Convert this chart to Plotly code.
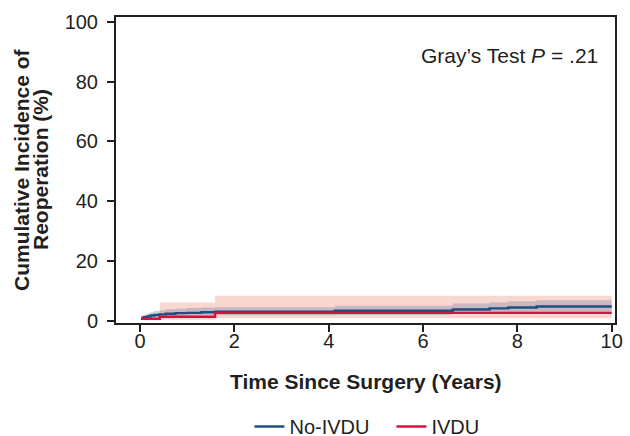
import plotly.graph_objects as go

# Data
no_ivdu_time = [0.03, 0.08, 0.15, 0.22, 0.30, 0.40, 0.55, 0.75, 1.00, 1.30, 1.60, 4.13, 6.63, 7.41, 7.81, 8.41, 10.0]
no_ivdu_cif = [0.8, 1.1, 1.4, 1.7, 1.9, 2.1, 2.3, 2.5, 2.6, 2.8, 3.0, 3.3, 3.7, 4.1, 4.4, 4.7, 4.7]
no_ivdu_upper = [1.5, 2.0, 2.5, 2.9, 3.2, 3.5, 3.8, 4.0, 4.2, 4.4, 4.5, 5.0, 5.7, 6.1, 6.5, 6.8, 6.8]
no_ivdu_lower = [0.2, 0.4, 0.6, 0.8, 1.0, 1.2, 1.4, 1.5, 1.6, 1.7, 1.8, 2.0, 2.3, 2.6, 2.8, 3.0, 3.0]

ivdu_time = [0.02, 0.42, 1.59, 10.0]
ivdu_cif = [0.6, 1.3, 2.6, 2.6]
ivdu_upper = [1.8, 6.1, 8.3, 8.3]
ivdu_lower = [0.1, 0.3, 0.8, 0.8]

x_ticks = [0, 2, 4, 6, 8, 10]
y_ticks = [0, 20, 40, 60, 80, 100]

BLUE = "#1d4f80"
RED = "#d3123f"
AXIS = "#231f20"
FONT = "Liberation Sans, Arial, sans-serif"

fig = go.Figure()

# IVDU confidence band
fig.add_trace(go.Scatter(x=ivdu_time, y=ivdu_upper, mode="lines", line=dict(width=0, shape="hv"),
                         showlegend=False, hoverinfo="skip"))
fig.add_trace(go.Scatter(x=ivdu_time, y=ivdu_lower, mode="lines", line=dict(width=0, shape="hv"),
                         fill="tonexty", fillcolor="rgba(230,110,90,0.28)", showlegend=False, hoverinfo="skip"))
# No-IVDU confidence band
fig.add_trace(go.Scatter(x=no_ivdu_time, y=no_ivdu_upper, mode="lines", line=dict(width=0, shape="hv"),
                         showlegend=False, hoverinfo="skip"))
fig.add_trace(go.Scatter(x=no_ivdu_time, y=no_ivdu_lower, mode="lines", line=dict(width=0, shape="hv"),
                         fill="tonexty", fillcolor="rgba(60,90,140,0.25)", showlegend=False, hoverinfo="skip"))

fig.add_trace(go.Scatter(x=no_ivdu_time, y=no_ivdu_cif, mode="lines", name="No-IVDU",
                         line=dict(color=BLUE, width=2.4, shape="hv")))
fig.add_trace(go.Scatter(x=ivdu_time, y=ivdu_cif, mode="lines", name="IVDU",
                         line=dict(color=RED, width=2.4, shape="hv")))

fig.add_annotation(x=9.76, y=88.6, xref="x", yref="y", xanchor="right", yanchor="middle",
                   text="Gray’s Test <i>P</i> = .21", showarrow=False,
                   font=dict(family=FONT, size=21, color=AXIS))

# Axis titles
title_font = dict(family=FONT, size=21, color=AXIS)
fig.add_annotation(x=0.5, y=-0.19, xref="paper", yref="paper", xanchor="center", yanchor="middle",
                   text="<b>Time Since Surgery (Years)</b>", showarrow=False, font=title_font)
fig.add_annotation(x=0, y=0.5, xref="paper", yref="paper", xanchor="center", yanchor="middle",
                   xshift=-95, text="<b>Cumulative Incidence of</b>", showarrow=False,
                   font=title_font, textangle=-90)
fig.add_annotation(x=0, y=0.5, xref="paper", yref="paper", xanchor="center", yanchor="middle",
                   xshift=-76, text="<b>Reoperation (%)</b>", showarrow=False,
                   font=title_font, textangle=-90)

axis_common = dict(showline=True, linecolor=AXIS, linewidth=2, mirror=True, ticks="outside",
                   tickcolor=AXIS, tickwidth=2, ticklen=7, showgrid=False, zeroline=False,
                   automargin=False, tickfont=dict(family=FONT, size=20, color=AXIS))

fig.update_xaxes(range=[-0.51, 10.07], tickvals=x_ticks, ticktext=[str(v) for v in x_ticks],
                 ticklabelstandoff=-8, **axis_common)
fig.update_yaxes(range=[-0.8, 101.6], tickvals=y_ticks, ticktext=[str(v) for v in y_ticks],
                 ticklabelstandoff=5, **axis_common)

fig.update_layout(
    width=630, height=436,
    margin=dict(l=116, r=15, t=17, b=113, autoexpand=False),
    paper_bgcolor="white", plot_bgcolor="white",
    showlegend=True,
    legend=dict(orientation="h", x=0.552, xanchor="center", y=-0.338, yanchor="middle",
                traceorder="normal", font=dict(family=FONT, size=20, color=AXIS), itemwidth=30,
                entrywidth=97, entrywidthmode="pixels"),
)

fig.write_html("out.html", config={"displayModeBar": False},
               post_script="document.body.style.margin='0';")
